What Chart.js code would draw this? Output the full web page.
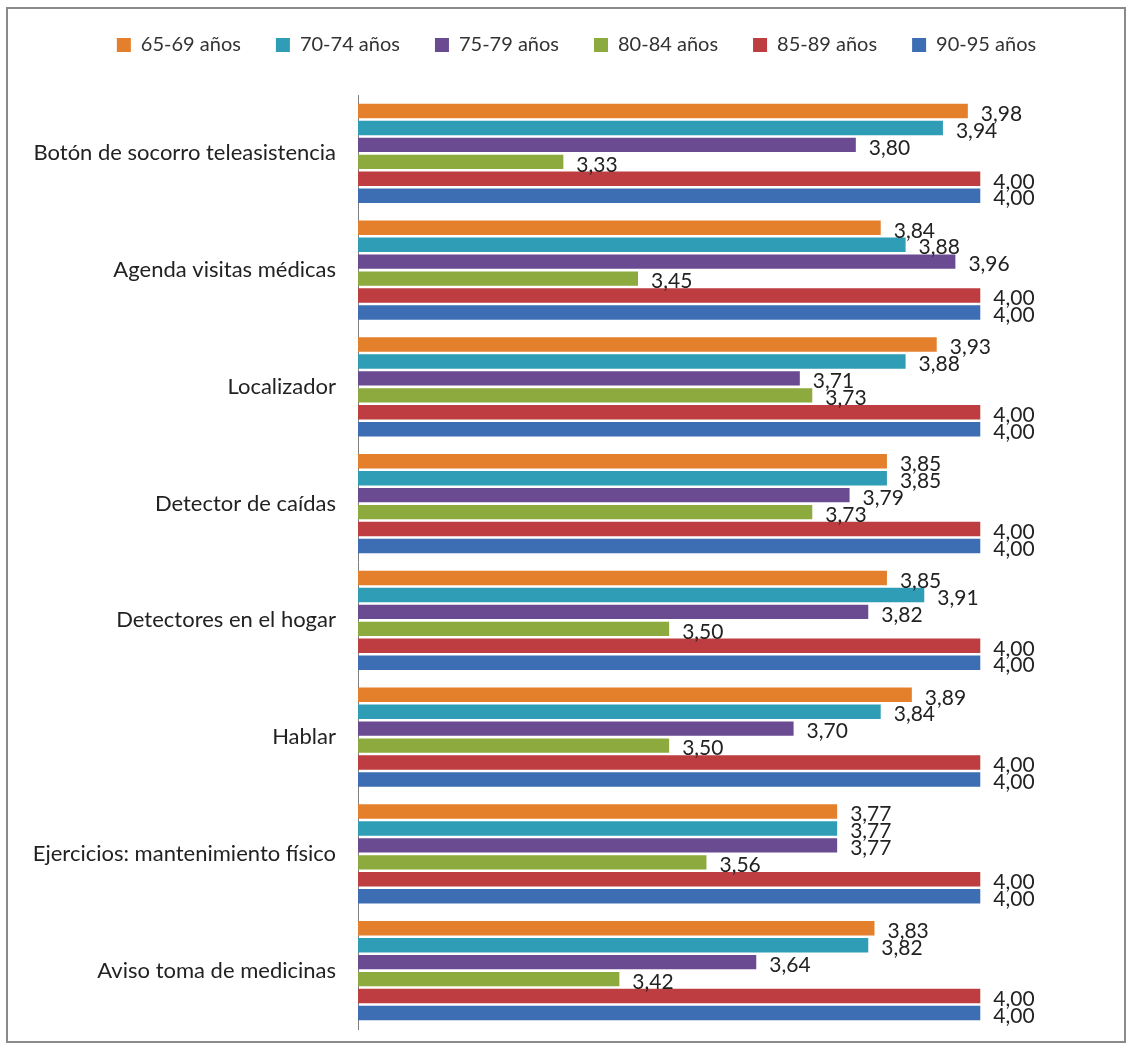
<!DOCTYPE html>
<html>
<head>
<meta charset="utf-8">
<script src="https://cdn.jsdelivr.net/npm/chart.js@4.4.1/dist/chart.umd.min.js"></script>
<style>
    html, body { margin: 0; padding: 0; background: #fff; }
    #wrap { width: 1129px; height: 1050px; }
</style>
</head>
<body>
<div id="wrap"><canvas id="usoChart" width="1129" height="1050"></canvas></div>
<script>
const categorias = [
    'Botón de socorro teleasistencia',
    'Agenda visitas médicas',
    'Localizador',
    'Detector de caídas',
    'Detectores en el hogar',
    'Hablar',
    'Ejercicios: mantenimiento físico',
    'Aviso toma de medicinas'
];
const grupos = ['65-69 años', '70-74 años', '75-79 años', '80-84 años', '85-89 años', '90-95 años'];

const edad65 = [3.98, 3.84, 3.93, 3.85, 3.85, 3.89, 3.77, 3.83];
const edad70 = [3.94, 3.88, 3.88, 3.85, 3.91, 3.84, 3.77, 3.82];
const edad75 = [3.80, 3.96, 3.71, 3.79, 3.82, 3.70, 3.77, 3.64];
const edad80 = [3.33, 3.45, 3.73, 3.73, 3.50, 3.50, 3.56, 3.42];
const edad85 = [4.00, 4.00, 4.00, 4.00, 4.00, 4.00, 4.00, 4.00];
const edad90 = [4.00, 4.00, 4.00, 4.00, 4.00, 4.00, 4.00, 4.00];

const colores = ['#E47F2C', '#2F9DB5', '#6A4B92', '#8DAA3E', '#BE3D40', '#3D6EB4'];
const series = [edad65, edad70, edad75, edad80, edad85, edad90];

const fuente = 'Lato, "Open Sans", sans-serif';

const marcoPlugin = {
    id: 'marco',
    beforeInit: function(chart) {
        // altura fija de la leyenda para que el area de barras empiece donde en el original
        const fitOriginal = chart.legend.fit;
        chart.legend.fit = function() {
            fitOriginal.call(this);
            this.height = 95;
        };
    },
    beforeDraw: function(chart) {
        const ctx = chart.ctx;
        ctx.save();
        ctx.fillStyle = '#ffffff';
        ctx.fillRect(0, 0, chart.width, chart.height);
        ctx.strokeStyle = '#8a8a8a';
        ctx.lineWidth = 2;
        ctx.strokeRect(7, 8, 1118, 1034);
        ctx.restore();
    }
};

const etiquetasPlugin = {
    id: 'etiquetas',
    afterDatasetsDraw: function(chart) {
        const ctx = chart.ctx;
        ctx.save();
        ctx.font = '21px ' + fuente;
        ctx.fillStyle = '#222';
        ctx.textAlign = 'left';
        ctx.textBaseline = 'middle';
        chart.data.datasets.forEach(function(ds, i) {
            const meta = chart.getDatasetMeta(i);
            meta.data.forEach(function(bar, j) {
                const txt = ds.data[j].toFixed(2).replace('.', ',');
                ctx.fillText(txt, bar.x + 13, bar.y + 3);
            });
        });
        ctx.restore();
    }
};

const ctx = document.getElementById('usoChart');
new Chart(ctx, {
    type: 'bar',
    data: {
        labels: categorias,
        datasets: grupos.map(function(g, i) {
            return {
                label: g,
                data: series[i],
                backgroundColor: colores[i],
                categoryPercentage: 0.87,
                barPercentage: 0.85
            };
        })
    },
    options: {
        indexAxis: 'y',
        responsive: false,
        animation: false,
        layout: {
            padding: { top: 0, left: 24, right: 0, bottom: 21 }
        },
        plugins: {
            legend: {
                position: 'top',
                labels: {
                    boxWidth: 14,
                    boxHeight: 14,
                    padding: 35,
                    color: '#333',
                    font: { family: fuente, size: 20 }
                }
            },
            tooltip: { enabled: false }
        },
        scales: {
            x: {
                display: false,
                min: 3,
                max: 4.239
            },
            y: {
                afterFit: function(scale) {
                    scale.width = 334;
                },
                // sin lineas de rejilla; el tickLength solo separa las etiquetas del eje
                grid: { display: false, drawTicks: true, tickLength: 22 },
                border: { display: true, color: '#7f7f7f', width: 1 },
                ticks: {
                    color: '#222',
                    padding: 0,
                    font: { family: fuente, size: 22 }
                }
            }
        }
    },
    plugins: [marcoPlugin, etiquetasPlugin]
});
</script>
</body>
</html>
